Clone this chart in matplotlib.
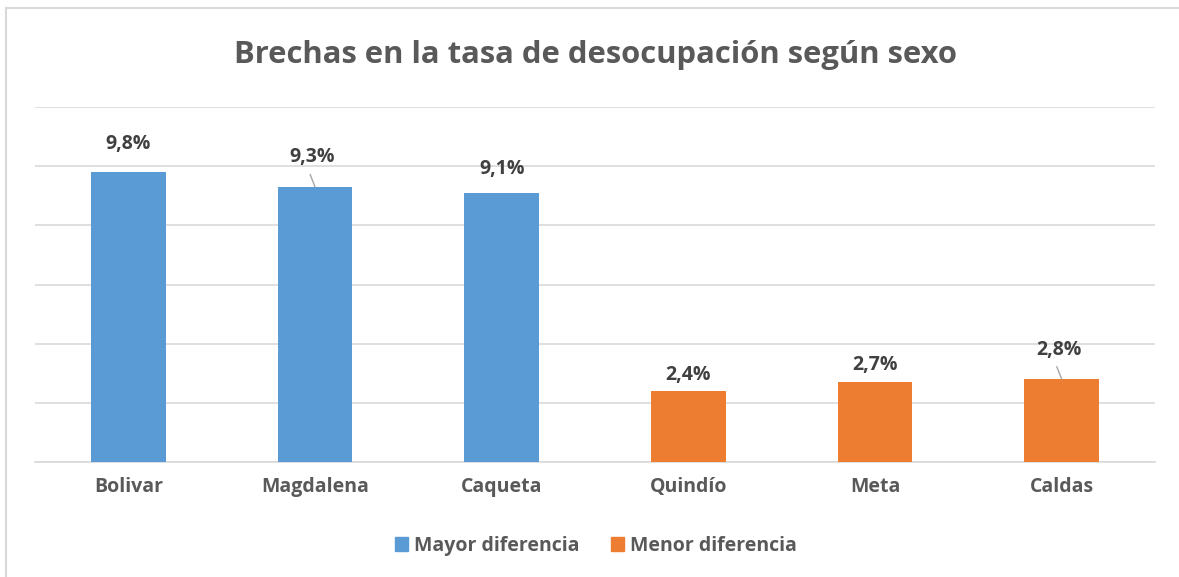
"""Brechas en la tasa de desocupación según sexo - bar chart."""

import matplotlib.pyplot as plt
from matplotlib.lines import Line2D
from matplotlib.patches import Patch

# data
departamentos = ["Bolivar", "Magdalena", "Caqueta", "Quindío", "Meta", "Caldas"]
brecha = [9.8, 9.3, 9.1, 2.4, 2.7, 2.8]
grupo = ["Mayor diferencia"] * 3 + ["Menor diferencia"] * 3
etiquetas = ["9,8%", "9,3%", "9,1%", "2,4%", "2,7%", "2,8%"]

colores = {"Mayor diferencia": "#5B9BD5", "Menor diferencia": "#ED7D31"}
# label offsets above the bar (points); Excel moved two of them by hand
label_dy = [13, 14, 10, 4, 5, 14]
leader = [False, True, False, False, False, True]

plt.rcParams['font.family'] = ['Open Sans', 'DejaVu Sans']
texto = "#595959"

fig = plt.figure(figsize=(11.79, 5.77), dpi=100)
ax = fig.add_axes([35 / 1179, (577 - 462) / 577, 1120 / 1179, 355 / 577])

# outer chart border (only top and left edges fall inside the image)
top = 1 - 8 / 577
left = 6 / 1179
fig.add_artist(Line2D([left, 1], [top, top], transform=fig.transFigure,
                      color="#D9D9D9", linewidth=1.5))
fig.add_artist(Line2D([left, left], [0, top], transform=fig.transFigure,
                      color="#D9D9D9", linewidth=1.5))

x = range(len(departamentos))
ax.bar(x, brecha, width=0.4, color=[colores[g] for g in grupo], zorder=3)

for i, v in enumerate(brecha):
    dy = label_dy[i]
    ax.annotate(etiquetas[i], (i, v), xytext=(-2 if leader[i] else 0, dy),
                textcoords="offset points", ha="center", va="bottom",
                fontsize=14, fontweight="bold", color="#404040")
    if leader[i]:
        ax.annotate("", (i, v), xytext=(-3.5, 9), textcoords="offset points",
                    arrowprops=dict(arrowstyle="-", color="#A6A6A6", lw=1,
                                    shrinkA=0, shrinkB=0))

ax.set_xlim(-0.5, 5.5)
ax.set_ylim(0, 12)
ax.set_yticks(range(0, 13, 2))
ax.set_yticklabels([])
ax.tick_params(axis="y", length=0)
ax.tick_params(axis="x", length=0, pad=11)
ax.set_xticks(list(x))
ax.set_xticklabels(departamentos, fontsize=14, fontweight="bold", color=texto)
ax.grid(axis="y", color="#D9D9D9", linewidth=1.2, zorder=0)
for s in ["top", "right", "left"]:
    ax.spines[s].set_visible(False)
ax.spines["bottom"].set_color("#D9D9D9")
ax.spines["bottom"].set_linewidth(1.2)

fig.text(595 / 1179, 1 - 55 / 577, "Brechas en la tasa de desocupación según sexo",
         ha="center", va="center", fontsize=22.3, fontweight="bold", color=texto)

handles = [Patch(color=colores[k], label=k) for k in colores]
fig.legend(handles=handles, loc="center", bbox_to_anchor=(596 / 1179, 1 - 546 / 577),
           ncol=2, frameon=False, handlelength=0.7, handleheight=0.7,
           handletextpad=0.3, columnspacing=1.6,
           prop={"size": 14, "weight": "bold"}, labelcolor=texto)

fig.savefig("out.png", dpi=100)
